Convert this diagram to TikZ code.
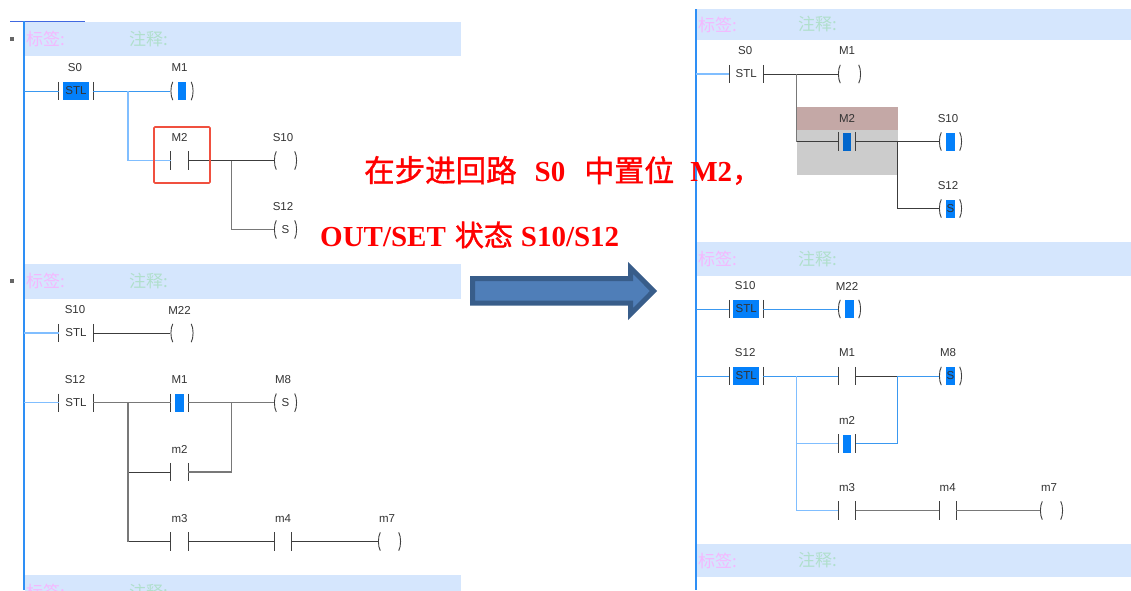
\documentclass[tikz,border=0pt]{standalone}
\usepackage{fontspec}
\setmainfont{Liberation Serif}
\setsansfont{Liberation Sans}
\newfontfamily\cjk{Noto Sans CJK SC}
\newfontfamily\cjkred[FakeBold=1.2]{Noto Sans CJK SC}
\usetikzlibrary{calc, positioning}

\definecolor{railblue}{HTML}{2E8FF5}
\definecolor{topblue}{HTML}{4068E0}
\definecolor{barblue}{HTML}{D5E6FD}
\definecolor{onblue}{HTML}{0480FA}
\definecolor{downblue}{HTML}{0066CC}
\definecolor{wireon}{HTML}{3A98F0}
\definecolor{wirepale}{HTML}{80BEFF}
\definecolor{wiredark}{HTML}{3C3C3C}
\definecolor{wiregrey}{HTML}{787878}
\definecolor{tagpink}{HTML}{F4B8FF}
\definecolor{tagmint}{HTML}{B0DFCC}
\definecolor{markred}{HTML}{F0503F}
\definecolor{arrowfill}{HTML}{4F7EB8}
\definecolor{arrowline}{HTML}{385D8A}
\definecolor{boxgrey}{HTML}{CCCCCC}
\definecolor{boxrose}{HTML}{C4A8A6}

\tikzset{
  wire/.style={line width=1pt, wiredark},
  on/.style={line width=1pt, wireon},
  pale/.style={line width=1.2pt, wirepale},
  grey/.style={line width=1.2pt, wiregrey},
  bar/.style={line width=0.9pt, black!75},
  cell/.style={minimum width=17pt, minimum height=18pt, inner sep=0pt},
  coilcell/.style={minimum width=23pt, minimum height=18pt, inner sep=0pt},
  lamp/.style={minimum width=8.5pt, minimum height=18pt, inner sep=0pt, font=\sffamily\fontsize{11.5}{12}\selectfont, text=black!80},
  lampon/.style={lamp, fill=onblue},
  lampdown/.style={lamp, fill=downblue},
  tag/.style={inner sep=0pt, font=\sffamily\fontsize{11.5}{12}\selectfont, text=black!80},
  headtext/.style={inner sep=0pt, anchor=west, font=\cjk\fontsize{17}{18}\selectfont},
  redtext/.style={inner sep=0pt, anchor=base west, red, font=\bfseries\fontsize{29}{30}\selectfont},
}

% contact: two bars, optional lamp between them
\newcommand{\contact}[4][lamp]{%
  \node[cell] (#2) at (#3) {};
  \node[#1] (#2l) at (#2) {};
  \draw[bar] (#2.north west) -- (#2.south west) (#2.north east) -- (#2.south east);
  \node[tag] (#2t) at ($(#2)+(0,-23)$) {#4};
}
% step contact with the STL text
\newcommand{\stl}[4][lamp]{%
  \node[cell, minimum width=34pt] (#2) at (#3) {};
  \node[#1, minimum width=25.5pt] (#2l) at (#2) {STL};
  \draw[bar] (#2.north west) -- (#2.south west) (#2.north east) -- (#2.south east);
  \node[tag] (#2t) at ($(#2)+(-1,-23)$) {#4};
}
% coil: two brackets with lamp, #5 is the text inside
\newcommand{\coil}[5][lamp]{%
  \node[coilcell] (#2) at (#3) {};
  \node[#1] (#2l) at (#2) {#5};
  \draw[bar] ($(#2.north west)+(2.5,0)$) .. controls ($(#2.west)+(0,-5)$) and ($(#2.west)+(0,5)$) .. ($(#2.south west)+(2.5,0)$);
  \draw[bar] ($(#2.north east)+(-2.5,0)$) .. controls ($(#2.east)+(0,-5)$) and ($(#2.east)+(0,5)$) .. ($(#2.south east)+(-2.5,0)$);
  \node[tag] (#2t) at ($(#2)+(-2.5,-23)$) {#4};
}
% header bar: name, left, top, right, bottom, x of second text
\newcommand{\headbar}[6]{%
  \fill[barblue] (#2,#3) rectangle (#4,#5);
  \node[headtext, tagpink] (#1a) at ($(#2,#3)!0.5!(#2,#5)+(1,0)$) {标签:};
  \node[headtext, tagmint] (#1b) at ($(#6,#3)!0.5!(#6,#5)$) {注释:};
}
\newcommand{\cn}[1]{{\cjkred\mdseries #1}}

\begin{document}
\begin{tikzpicture}[x=1pt, y=-1pt]
  \useasboundingbox (0,0) rectangle (1131,590);

  % Header bars
  \headbar{ha}{25}{22}{461}{56}{129}
  \headbar{hb}{25}{264}{461}{298.5}{129}
  \headbar{hc}{25}{575}{461}{609}{129}
  \headbar{hd}{697}{9}{1131}{40}{798}
  \headbar{he}{697}{242}{1131}{275.5}{798}
  \headbar{hf}{697}{544}{1131}{577}{798}

  % Rails and small marks
  \draw[topblue, line width=0.7pt] (10,21) -- (85,21);
  \draw[railblue, line width=2pt] (24,21) -- (24,590);
  \draw[railblue, line width=1.6pt] (696,9) -- (696,590);
  \fill[black!60] (10,37) rectangle (14,41);
  \fill[black!60] (10,279) rectangle (14,283);

  % Left, step S0
  \coordinate (r1) at (24,91);
  \coordinate (r2) at (24,333);
  \coordinate (r3) at (24,402.7);
  \stl[lampon]{s0}{76,91}{S0}
  \coil[lampon]{m1}{182,91}{M1}{}
  \contact{m2}{179.5,160.5}{M2}
  \coil{s10}{285.5,160.5}{S10}{}
  \coil{s12}{285.5,229.5}{S12}{S}
  \coordinate (j1) at (128,91);
  \coordinate (j2) at (231.5,160.5);
  \draw[on] (r1) -- (s0.west);
  \draw[on] (s0.east) -- (m1.west);
  \draw[pale] (j1) |- (m2.west);
  \draw[wire] (m2.east) -- (s10.west);
  \draw[grey] (j2) |- (s12.west);
  \node[draw=markred, line width=1.6pt, rounded corners=1pt, minimum width=56pt, minimum height=56pt] (m2mark) at (182,155) {};

  % Left, steps S10 and S12
  \stl{sa}{76,333}{S10}
  \coil{m22}{182,333}{M22}{}
  \stl{sb}{76,402.7}{S12}
  \contact[lampon]{ma}{179.5,402.7}{M1}
  \coil{m8}{285.5,402.7}{M8}{S}
  \contact{mb}{179.5,472}{m2}
  \contact{mc}{179.5,541.5}{m3}
  \contact{md}{283,541.5}{m4}
  \coil{m7}{389.5,541.5}{m7}{}
  \coordinate (j3) at (128,402.7);
  \coordinate (j4) at (231.5,402.7);
  \draw[pale] (r2) -- (sa.west);
  \draw[wire] (sa.east) -- (m22.west);
  \draw[pale] (r3) -- (sb.west);
  \draw[grey] (sb.east) -- (ma.west);
  \draw[grey] (ma.east) -- (m8.west);
  \draw[wire] (j3 |- mb) -- (mb.west);
  \draw[wire] (j3 |- mc) -- (mc.west);
  \draw[grey] (j3) -- (j3 |- mc);
  \draw[grey] (j4) |- (mb.east);
  \draw[wire] (mc.east) -- (md.west);
  \draw[wire] (md.east) -- (m7.west);

  % Right, step S0
  \fill[boxgrey] (796.5,130) rectangle (897.5,174.5);
  \fill[boxrose] (796.5,107) rectangle (897.5,130);
  \coordinate (q1) at (696,74);
  \coordinate (q2) at (696,309);
  \coordinate (q3) at (696,376);
  \stl{ta}{746.2,74}{S0}
  \coil{tb}{849.5,74}{M1}{}
  \contact[lampdown]{tc}{847,141.5}{M2}
  \coil[lampon]{td}{950.5,141.5}{S10}{}
  \coil[lampon]{te}{950.5,208.5}{S12}{S}
  \coordinate (k1) at (796.7,74);
  \coordinate (k2) at (897.5,141.5);
  \draw[pale] (q1) -- (ta.west);
  \draw[wire] (ta.east) -- (tb.west);
  \draw[grey] (k1) -- (k1 |- tc);
  \draw[wire] (k1 |- tc) -- (tc.west);
  \draw[wire] (tc.east) -- (td.west);
  \draw[wire] (k2) |- (te.west);

  % Right, steps S10 and S12
  \stl[lampon]{ua}{746.2,309}{S10}
  \coil[lampon]{ub}{849.5,309}{M22}{}
  \stl[lampon]{uc}{746.2,376}{S12}
  \contact{ud}{847,376}{M1}
  \coil[lampon]{ue}{950.5,376}{M8}{S}
  \contact[lampon]{uf}{847,443.5}{m2}
  \contact{ug}{847,510.5}{m3}
  \contact{uh}{947.7,510.5}{m4}
  \coil{ui}{1051.5,510.5}{m7}{}
  \coordinate (k3) at (796.7,376);
  \coordinate (k4) at (897.5,376);
  \draw[on] (q2) -- (ua.west);
  \draw[on] (ua.east) -- (ub.west);
  \draw[on] (q3) -- (uc.west);
  \draw[on] (uc.east) -- (ud.west);
  \draw[wire] (ud.east) -- (k4);
  \draw[on] (k4) -- (ue.west);
  \draw[pale] (k3) |- (uf.west);
  \draw[pale] (k3) |- (ug.west);
  \draw[on] (k4) |- (uf.east);
  \draw[grey] (ug.east) -- (uh.west);
  \draw[grey] (uh.east) -- (ui.west);

  % Arrow
  \draw[fill=arrowfill, draw=arrowline, line width=5pt, miter limit=10]
    (472.6,278.6) -- (630.6,278.6) -- (630.6,268) -- (653.5,291) -- (630.6,314) -- (630.6,303.2) -- (472.6,303.2) -- cycle;

  % Red text
  \node[redtext] (line1) at (364,181.7) {\fontsize{30.5}{30}\selectfont\cn{在步进回路}\hspace*{18pt}\fontsize{29}{30}\selectfont S0\hspace*{19pt}\fontsize{30}{30}\selectfont\cn{中置位}\hspace*{16pt}\fontsize{29}{30}\selectfont M2\cn{，}};
  \node[redtext] (line2) at (320,246) {OUT/SET\hspace*{9pt}\cn{状态}\hspace*{8pt}S10/S12};
\end{tikzpicture}
\end{document}
